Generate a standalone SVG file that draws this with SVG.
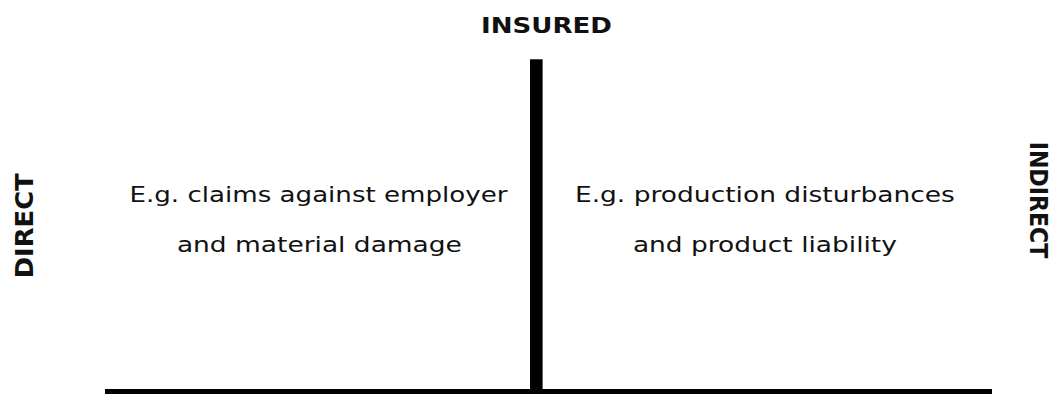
<svg xmlns="http://www.w3.org/2000/svg" width="1050" height="394" viewBox="0 0 1050 394">
  <style>
    .axis { fill: #000000; }
    .label { font-family: "DejaVu Sans", Verdana, sans-serif; font-weight: bold; font-size: 22px; fill: #111111; }
    .side { font-family: "DejaVu Sans", Verdana, sans-serif; font-weight: bold; font-size: 24.5px; fill: #111111; }
    .body { font-family: "DejaVu Sans", Verdana, sans-serif; font-size: 22px; fill: #111111; text-anchor: middle; }
  </style>
  <rect width="1050" height="394" fill="#ffffff"/>

  <!-- Axes: vertical divider and base line -->
  <g id="connectors">
    <rect class="axis" x="530" y="59.3" width="12.6" height="334.7"/>
    <rect class="axis" x="105" y="389" width="887" height="5"/>
  </g>

  <!-- Axis labels -->
  <g id="label-insured">
    <text class="label" x="546.5" y="33.3" text-anchor="middle" textLength="131" lengthAdjust="spacingAndGlyphs">INSURED</text>
  </g>
  <g id="label-direct">
    <text class="side" transform="translate(33.3 225.8) rotate(-90)" x="0" y="0" text-anchor="middle" textLength="105" lengthAdjust="spacingAndGlyphs">DIRECT</text>
  </g>
  <g id="label-indirect">
    <text class="side" transform="translate(1030 200) rotate(90)" x="0" y="0" text-anchor="middle" textLength="116.7" lengthAdjust="spacingAndGlyphs">INDIRECT</text>
  </g>

  <!-- Quadrant descriptions -->
  <g id="node-direct">
    <text class="body" x="318.5" y="202.3" textLength="378" lengthAdjust="spacingAndGlyphs">E.g. claims against employer</text>
    <text class="body" x="319.4" y="251.7" textLength="285" lengthAdjust="spacingAndGlyphs">and material damage</text>
  </g>
  <g id="node-indirect">
    <text class="body" x="764.9" y="202.3" textLength="380" lengthAdjust="spacingAndGlyphs">E.g. production disturbances</text>
    <text class="body" x="764.9" y="251.7" textLength="264" lengthAdjust="spacingAndGlyphs">and product liability</text>
  </g>
</svg>
